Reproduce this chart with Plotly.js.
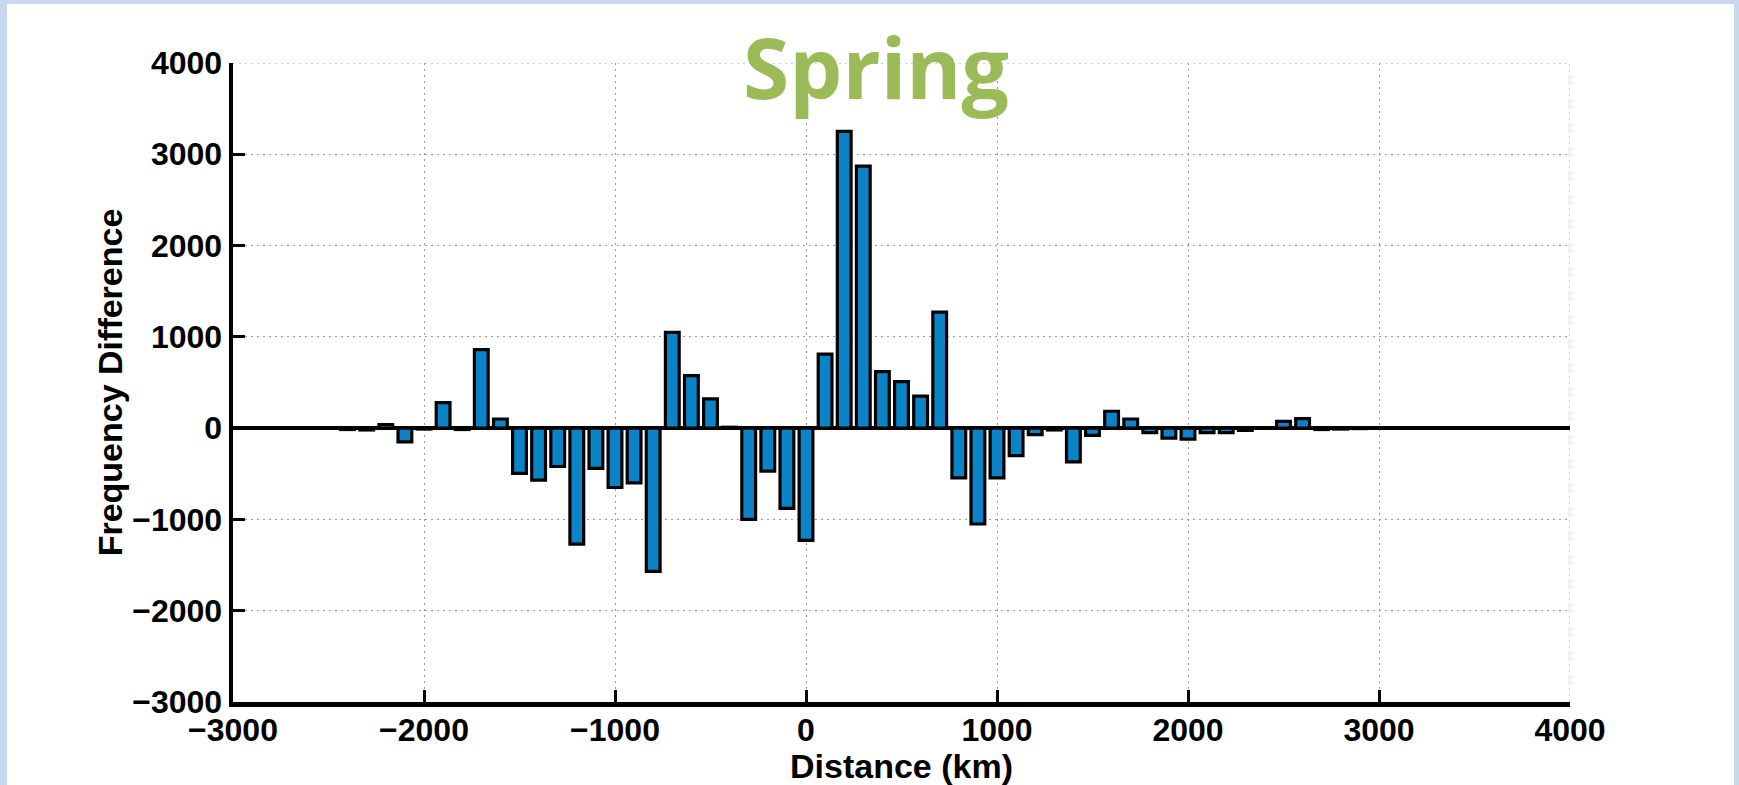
<!DOCTYPE html>
<html>
<head>
<meta charset="utf-8">
<script src="https://cdn.plot.ly/plotly-3.0.1.min.js"></script>
<style>
  html, body { margin: 0; padding: 0; background: #c6d9f0; width: 1739px; height: 785px; overflow: hidden; }
  #chart { position: absolute; left: 7px; top: 4px; width: 1727px; height: 781px; background: #ffffff; }
</style>
</head>
<body>
<div id="chart"></div>
<script>
// Distance bin centres (km)
const distances = [
  -2400, -2300, -2200, -2100, -2000, -1900, -1800, -1700, -1600, -1500,
  -1400, -1300, -1200, -1100, -1000, -900, -800, -700, -600, -500,
  -400, -300, -200, -100, 0, 100, 200, 300, 400, 500,
  600, 700, 800, 900, 1000, 1100, 1200, 1300, 1400, 1500,
  1600, 1700, 1800, 1900, 2000, 2100, 2200, 2300, 2400, 2500,
  2600, 2700, 2800, 2900
];
// Frequency difference per bin
const freqDiff = [
  -15, -20, 40, -150, -10, 280, -15, 860, 100, -495,
  -570, -420, -1270, -440, -650, -600, -1570, 1050, 575, 320,
  10, -1000, -470, -880, -1230, 810, 3250, 2870, 620, 510,
  350, 1270, -545, -1050, -545, -300, -70, -20, -370, -80,
  185, 100, -50, -110, -120, -50, -50, -25, 5, 75,
  105, -15, -10, -5
];
const xTickVals = [-3000, -2000, -1000, 0, 1000, 2000, 3000, 4000];
const yTickVals = [-3000, -2000, -1000, 0, 1000, 2000, 3000, 4000];
const titleText = 'Spring';
const xTitle = 'Distance (km)';
const yTitle = 'Frequency Difference';

const tickFont = { family: 'Liberation Sans, Arial, sans-serif', size: 32, color: '#000000', weight: 'bold' };
const axisTitleFont = { family: 'Liberation Sans, Arial, sans-serif', size: 34, color: '#000000', weight: 'bold' };

const fmt = v => v < 0 ? '\u2212' + Math.abs(v) : String(v);

const trace = {
  type: 'bar',
  x: distances,
  y: freqDiff,
  marker: { color: '#0b84c7', line: { color: '#000000', width: 3.2 } },
  hoverinfo: 'x+y'
};

const gridStyle = { showgrid: true, gridcolor: '#9a9a9a', gridwidth: 1, griddash: '2px,4px' };

const xMax = xTickVals[xTickVals.length - 1];
const yMax = yTickVals[yTickVals.length - 1];

const layout = {
  width: 1727,
  height: 781,
  paper_bgcolor: '#ffffff',
  plot_bgcolor: '#ffffff',
  margin: { l: 226, r: 164, t: 59, b: 83 },
  bargap: 0.28,
  showlegend: false,
  title: {
    text: titleText,
    font: { family: 'Open Sans, sans-serif', size: 84, color: '#9bbb59', weight: 'bold' },
    x: 869 / 1727, xref: 'container', xanchor: 'center',
    y: 1 - 66 / 781, yref: 'container', yanchor: 'middle'
  },
  xaxis: Object.assign({
    range: [-3000, 4000],
    tickvals: xTickVals,
    ticktext: xTickVals.map(fmt),
    ticks: 'inside', ticklen: 12, tickwidth: 3, tickcolor: '#000000',
    ticklabelstandoff: -4,
    showline: true, linecolor: '#000000', linewidth: 4.5, mirror: false,
    zeroline: false,
    tickfont: tickFont,
    title: { text: xTitle, font: axisTitleFont, standoff: 0 },
    automargin: false
  }, gridStyle),
  yaxis: Object.assign({
    range: [-3000, 4000],
    tickvals: yTickVals,
    ticktext: yTickVals.map(fmt),
    ticks: 'inside', ticklen: 12, tickwidth: 3, tickcolor: '#000000',
    showline: true, linecolor: '#000000', linewidth: 4.5, mirror: false,
    zeroline: true, zerolinecolor: '#000000', zerolinewidth: 4,
    tickfont: tickFont,
    title: { text: yTitle, font: axisTitleFont, standoff: 1 },
    automargin: false
  }, gridStyle),
  shapes: [
    // dotted grid lines on the top and right edges of the axes box
    {
      type: 'line', xref: 'x', yref: 'y', x0: -3000, x1: xMax, y0: yMax, y1: yMax,
      line: { color: '#9a9a9a', width: 1, dash: '2px,4px' }, layer: 'between'
    },
    {
      type: 'line', xref: 'x', yref: 'y', x0: xMax, x1: xMax, y0: -3000, y1: yMax,
      line: { color: '#9a9a9a', width: 1, dash: '2px,4px' }, layer: 'between'
    },
    // white box behind the title hiding the grid
    {
      type: 'rect', xref: 'paper', yref: 'paper',
      x0: 0.249, x1: 0.652, y0: 0.893, y1: 1.02,
      fillcolor: '#ffffff', line: { width: 0 }, layer: 'between'
    }
  ]
};

Plotly.newPlot('chart', [trace], layout, { displayModeBar: false, staticPlot: true });
</script>
</body>
</html>
